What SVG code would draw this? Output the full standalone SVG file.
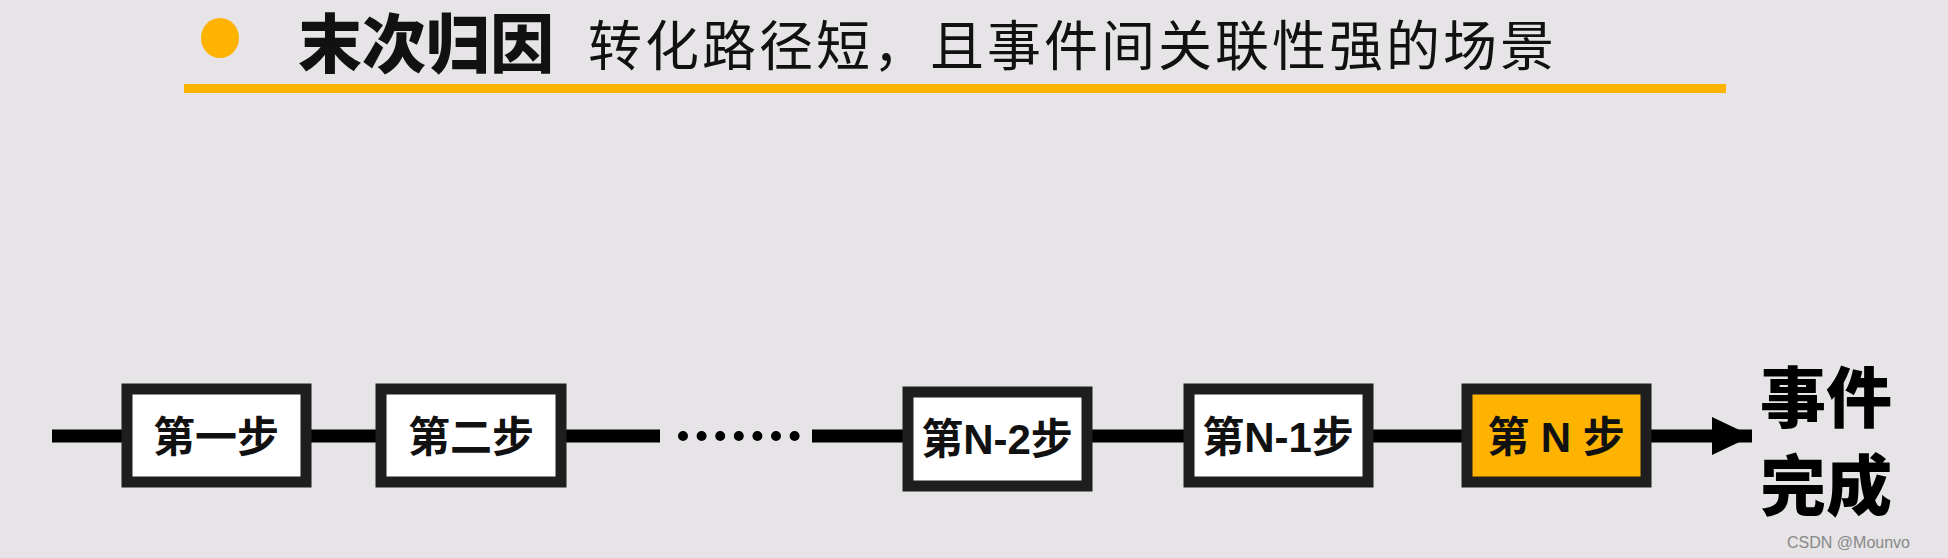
<svg xmlns="http://www.w3.org/2000/svg" width="1948" height="558" viewBox="0 0 1948 558">
<style>
.box{fill:#fff;stroke:#1e1e1e;stroke-width:11}
.lbl{font-family:"Liberation Sans","Noto Sans CJK SC",sans-serif;font-weight:bold;font-size:42px;text-anchor:middle;fill:#111}
.ln{stroke:#000;stroke-width:13}
</style>
<defs><marker id="ah" markerUnits="userSpaceOnUse" markerWidth="42" markerHeight="38" refX="40" refY="19" orient="auto"><path d="M0,0 L40,19 L0,38 Z" fill="#000"/></marker></defs>
<rect width="1948" height="558" fill="#e6e4e6"/>
<g id="header">
<ellipse cx="220" cy="38" rx="19" ry="20" fill="#fdb300"/>
<text x="298" y="67" font-family="Noto Sans CJK SC,sans-serif" font-weight="900" font-size="64" fill="#111">末次归因</text>
<text x="588" y="66" font-family="Noto Sans CJK SC,sans-serif" font-size="54" letter-spacing="3" fill="#111">转化路径短，且事件间关联性强的场景</text>
<rect x="184" y="84" width="1542" height="9" fill="#fdb300"/>
</g>
<g id="connectors">
<line class="ln" x1="52" y1="436" x2="122" y2="436"/>
<line class="ln" x1="311" y1="436" x2="376" y2="436"/>
<line class="ln" x1="566" y1="436" x2="660" y2="436"/>
<line x1="683" y1="436" x2="795" y2="436" stroke="#000" stroke-width="10" stroke-linecap="round" stroke-dasharray="0 18.6"/>
<line class="ln" x1="812" y1="436" x2="903" y2="436"/>
<line class="ln" x1="1092" y1="436" x2="1184" y2="436"/>
<line class="ln" x1="1373" y1="436" x2="1462" y2="436"/>
<line class="ln" x1="1651" y1="436" x2="1752" y2="436" marker-end="url(#ah)"/>
</g>
<g id="n1"><rect class="box" x="127" y="389" width="179" height="93"/><text class="lbl" x="216" y="452">第一步</text></g>
<g id="n2"><rect class="box" x="381" y="389" width="180" height="93"/><text class="lbl" x="471" y="452">第二步</text></g>
<g id="n3"><rect class="box" x="908" y="392" width="179" height="94"/><text class="lbl" x="997" y="454">第N-2步</text></g>
<g id="n4"><rect class="box" x="1189" y="389" width="179" height="93"/><text class="lbl" x="1278" y="452">第N-1步</text></g>
<g id="n5"><rect class="box" x="1467" y="389" width="179" height="93" style="fill:#fdb300"/><text class="lbl" x="1556" y="452">第 N 步</text></g>
<g id="done"><text font-family="Noto Sans CJK SC,sans-serif" font-weight="900" font-size="66" fill="#000"><tspan x="1760" y="422">事件</tspan><tspan x="1760" y="510">完成</tspan></text></g>
<text x="1910" y="548" text-anchor="end" font-family="Liberation Sans,sans-serif" font-size="16" fill="#888">CSDN @Mounvo</text>
</svg>
